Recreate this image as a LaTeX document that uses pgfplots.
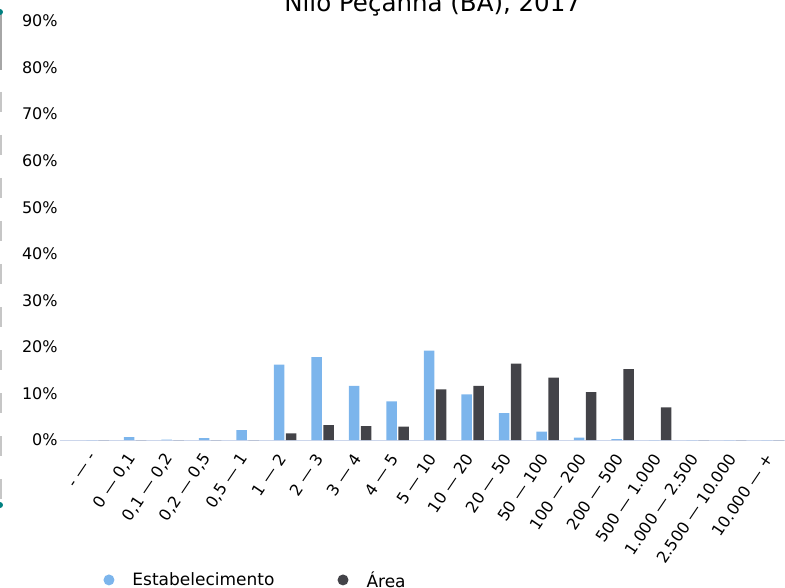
\documentclass[border=0pt]{standalone}
\usepackage{pgfplots}
\pgfplotsset{compat=1.18}
\usepackage{fontspec}
\setmainfont{DejaVu Sans}
\definecolor{hcblue}{HTML}{7CB5EC}
\definecolor{hcdark}{HTML}{434348}
\definecolor{axline}{HTML}{CCD6EB}
\begin{document}
\begin{tikzpicture}
\path[use as bounding box, clip] (-60pt,-147pt) rectangle (725pt,440pt);
\begin{axis}[
  scale only axis, width=725pt, height=419pt,
  xmin=-1, xmax=18.33, ymin=0, ymax=90,
  ybar, bar width=10.5pt,
  axis y line=none, axis x line*=bottom,
  axis line style={axline, line width=1pt},
  x axis line style={-},
  xtick={0,...,18},
  xticklabels={{- — -},{0 — 0,1},{0,1 — 0,2},{0,2 — 0,5},{0,5 — 1},{1 — 2},{2 — 3},{3 — 4},{4 — 5},{5 — 10},{10 — 20},{20 — 50},{50 — 100},{100 — 200},{200 — 500},{500 — 1.000},{1.000 — 2.500},{2.500 — 10.000},{10.000 — +}},
  xtick style={draw=none},
  xticklabel style={font=\fontsize{16}{18}\selectfont, xshift=-3pt, yshift=-11pt, rotate=56, anchor=east, inner sep=0pt},
  ytick=\empty,
  clip=false,
  legend style={draw=none, fill=none, at={(axis description cs:0.0597,-0.334)}, anchor=west, font=\fontsize{17}{20}\selectfont, column sep=0pt, inner sep=0pt},
  legend columns=2,
  legend image code/.code={\fill[#1, draw=none] (5.5pt,0pt) circle (5.5pt);},
  legend cell align=left,
  /tikz/every odd column/.append style={column sep=0pt},
  /tikz/every even column/.append style={column sep=61pt},
]
\addplot[fill=hcblue, draw=none, bar shift=-6pt, forget plot] coordinates {
(0,0) (1,0.6) (2,0.1) (3,0.4) (4,2.1) (5,16.2) (6,17.8) (7,11.6) (8,8.3) (9,19.2) (10,9.8) (11,5.8) (12,1.8) (13,0.5) (14,0.2) (15,0) (16,0) (17,0) (18,0)};
\addplot[fill=hcdark, draw=none, bar shift=6pt, forget plot] coordinates {
(0,0) (1,0) (2,0) (3,0) (4,0) (5,1.4) (6,3.2) (7,3.0) (8,2.9) (9,10.9) (10,11.6) (11,16.4) (12,13.4) (13,10.3) (14,15.2) (15,7.0) (16,0) (17,0) (18,0)};
\addlegendimage{fill=hcblue, draw=none}
\addlegendentry{\hspace{16pt}Estabelecimento}
\addlegendimage{fill=hcdark, draw=none}
\addlegendentry{\hspace{16pt}Área}
\foreach \v in {0,10,...,90} {
  \edef\tmp{\noexpand\node[anchor=east, inner sep=0pt, font=\noexpand\fontsize{16}{18}\noexpand\selectfont] at (axis description cs:-0.003,\v/90) {\v\noexpand\%};}
  \tmp
}
\node[anchor=base, inner sep=0pt, font=\fontsize{24.5}{28}\selectfont] at (axis description cs:0.514,1.0215) {Nilo Peçanha (BA), 2017};
\end{axis}
\draw[gray!70, line width=3pt] (-59pt,428pt) -- (-59pt,370pt);
\draw[gray!45, line width=3pt, dash pattern=on 20pt off 23pt] (-59pt,348pt) -- (-59pt,-65pt);
\fill[teal] (-60pt,428pt) circle (3pt);
\fill[teal] (-60pt,-65pt) circle (3pt);
\end{tikzpicture}
\end{document}
